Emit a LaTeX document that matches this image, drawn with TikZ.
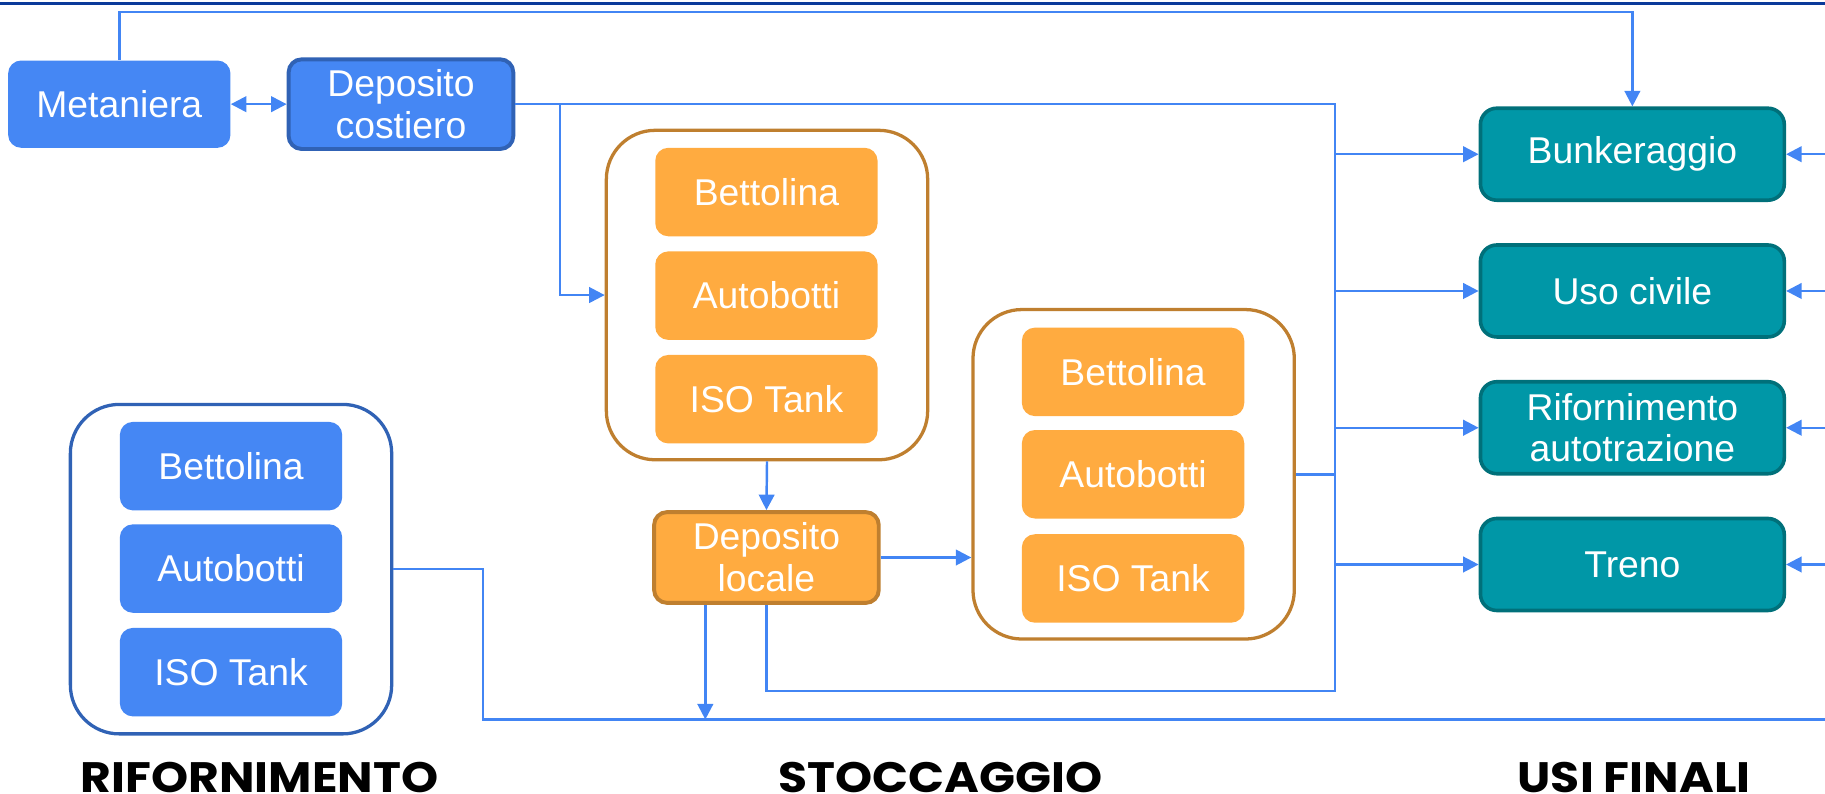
\documentclass[tikz,border=0pt]{standalone}
\usepackage{fontspec}
\setmainfont{Liberation Sans}
\newfontfamily\titfont{Poppins}[FakeStretch=1.11]
\usetikzlibrary{arrows.meta,calc}

\definecolor{blu}{HTML}{4587F4}
\definecolor{blubordo}{HTML}{3062B5}
\definecolor{blunotte}{HTML}{0A3A9A}
\definecolor{arancio}{HTML}{FFAB40}
\definecolor{aranciobordo}{HTML}{BF7F2F}
\definecolor{tealfondo}{HTML}{0097A7}
\definecolor{tealbordo}{HTML}{00707A}
\definecolor{linea}{HTML}{4285F4}

\tikzset{
  scatola/.style={rounded corners=0.28cm, inner sep=0pt, text=white, align=center,
    minimum width=4.775cm, minimum height=1.9cm, font=\fontsize{22.8}{25.5}\selectfont},
  blubox/.style={scatola, fill=blu},
  arabox/.style={scatola, fill=arancio},
  tealbox/.style={scatola, fill=tealfondo, draw=tealbordo, line width=2.2pt,
    minimum width=6.525cm, minimum height=1.975cm, rounded corners=0.35cm},
  contenitore/.style={draw, fill=white, line width=2pt, rounded corners=1.05cm,
    minimum width=6.9cm, minimum height=7.075cm, inner sep=0pt},
  conn/.style={draw=linea, line width=1.5pt},
  freccia/.style={conn, -{Triangle[length=9.5pt,width=9.5pt]}},
  titolo/.style={anchor=base, inner sep=0pt, font=\titfont\bfseries\fontsize{26}{30}\selectfont}
}

\begin{document}
\begin{tikzpicture}[x=0.025cm, y=-0.025cm]
\clip (0,0) rectangle (1568,682);
\draw[blunotte, line width=1.5pt] (0,3) -- (1568,3);

\node[blubox, minimum height=1.875cm] (meta) at (102.5,89.5) {Metaniera};
\node[blubox, draw=blubordo, line width=2.4pt, minimum width=4.825cm, minimum height=1.925cm] (depcost) at (344.5,89.5) {Deposito\\costiero};

\node[contenitore, draw=blubordo] (rif) at (198.5,489) {};
\node[blubox] (rif1) at (198.5,400.5) {Bettolina};
\node[blubox] (rif2) at (198.5,488.5) {Autobotti};
\node[blubox] (rif3) at (198.5,577.5) {ISO Tank};

\node[contenitore, draw=aranciobordo] (cont1) at (659,253.5) {};
\node[arabox] (c1a) at (658.5,165) {Bettolina};
\node[arabox] (c1b) at (658.5,254) {Autobotti};
\node[arabox] (c1c) at (658.5,343) {ISO Tank};

\node[arabox, draw=aranciobordo, line width=2.4pt, minimum width=4.825cm, minimum height=1.95cm] (deploc) at (658.5,479) {Deposito\\locale};

\node[contenitore, draw=aranciobordo] (cont2) at (974,407.5) {};
\node[arabox] (c2a) at (973.5,319.5) {Bettolina};
\node[arabox] (c2b) at (973.5,407.5) {Autobotti};
\node[arabox] (c2c) at (973.5,497) {ISO Tank};

\node[tealbox] (bunk) at (1402.5,132.5) {Bunkeraggio};
\node[tealbox] (civ) at (1402.5,250) {Uso civile};
\node[tealbox] (aut) at (1402.5,367.5) {Rifornimento\\autotrazione};
\node[tealbox] (treno) at (1402.5,485) {Treno};

\node[titolo] (trif) at (223,680.5) {RIFORNIMENTO};
\node[titolo] (tsto) at (808,680.5) {STOCCAGGIO};
\node[titolo] (tusi) at (1404,680.5) {USI FINALI};

\coordinate (collsu) at (1147,89.5);
\coordinate (collgiu) at (1147,593.5);
\coordinate (diram) at (481,89.5);
\coordinate (ritorno) at (1580,618);

\draw[conn, {Triangle[length=9.5pt,width=9.5pt]}-{Triangle[length=9.5pt,width=9.5pt]}] (meta.east) -- (depcost.west);
\draw[freccia] (meta.north) -- ++(0,-41.5) -| (bunk.north);
\draw[conn] (depcost.east) -- (collsu) -- (collgiu) -| (deploc.south);
\draw[freccia] (diram) |- (cont1.west);
\draw[freccia] (cont1.south) -- (deploc.north);
\draw[freccia] (deploc.east) -- (deploc.east -| cont2.west);
\draw[conn] (cont2.east) -- (cont2.east -| collsu);
\draw[freccia] ($(deploc.south)+(-52.5,0)$) -- ++(0,98.5);
\draw[conn] (rif.east) -- ++(77,0) |- (ritorno) -- (ritorno |- bunk.east);
\foreach \u in {bunk,civ,aut,treno}{
  \draw[freccia] (collsu |- \u.west) -- (\u.west);
  \draw[freccia] (ritorno |- \u.east) -- (\u.east);
}
\end{tikzpicture}
\end{document}
